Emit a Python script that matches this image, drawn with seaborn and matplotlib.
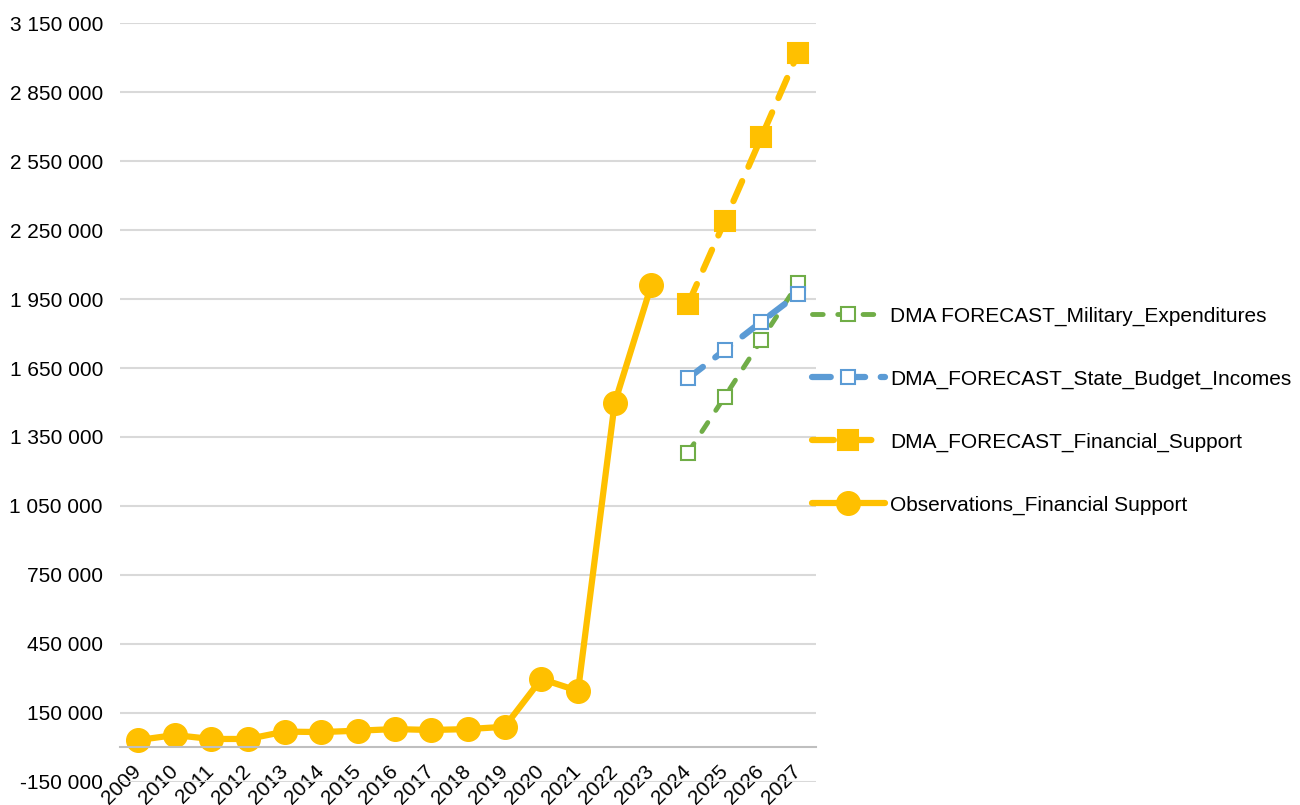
import numpy as np
import pandas as pd
import matplotlib
matplotlib.use("Agg")
import matplotlib.pyplot as plt
from matplotlib.ticker import FuncFormatter, FixedLocator
import seaborn as sns

years = [str(y) for y in range(2009, 2028)]
obs_years = years[:15]
fc_years = years[15:]

obs_financial = [32000, 54000, 37000, 37000, 69000, 67000, 73000, 80000, 76000,
                 80000, 90000, 298000, 246000, 1498000, 2011000]
fc_financial = [1928000, 2289000, 2654000, 3020000]
fc_budget = [1605000, 1728000, 1851000, 1972000]
fc_military = [1282000, 1525000, 1772000, 2018000]

yellow = "#ffc000"
blue = "#5b9bd5"
green = "#70ad47"

sns.set_style("white")
plt.rcParams['font.family'] = ['Liberation Sans', 'DejaVu Sans']
plt.rcParams['font.size'] = 15
plt.rcParams['text.color'] = 'black'
plt.rcParams['xtick.labelcolor'] = 'black'
plt.rcParams['ytick.labelcolor'] = 'black'

pos = {y: i for i, y in enumerate(years)}
df_obs = pd.DataFrame({"x": [pos[y] for y in obs_years], "v": obs_financial})
df_fc = pd.DataFrame({"x": [pos[y] for y in fc_years], "fin": fc_financial,
                      "bud": fc_budget, "mil": fc_military})

fig, ax = plt.subplots(figsize=(13, 8.05), dpi=100)
fig.subplots_adjust(left=0.092, right=0.628, top=0.9714, bottom=0.0286)

sns.lineplot(data=df_fc, x="x", y="mil", ax=ax, color=green, linewidth=3.5,
             linestyle=(0, (2.2, 3)), dash_capstyle="round",
             marker="s", markersize=10, mfc="white", mec=green, mew=1.5,
             label="DMA FORECAST_Military_Expenditures")
sns.lineplot(data=df_fc, x="x", y="bud", ax=ax, color=blue, linewidth=4.5,
             linestyle=(0, (3, 2.5)), dash_capstyle="round",
             marker="s", markersize=10, mfc="white", mec=blue, mew=1.5,
             label="DMA_FORECAST_State_Budget_Incomes")
sns.lineplot(data=df_fc, x="x", y="fin", ax=ax, color=yellow, linewidth=4.5,
             linestyle=(0, (3.5, 2.5)), dash_capstyle="round",
             marker="s", markersize=15, mfc=yellow, mec=yellow, mew=1.5,
             label="DMA_FORECAST_Financial_Support")
sns.lineplot(data=df_obs, x="x", y="v", ax=ax, color=yellow, linewidth=4.5,
             solid_capstyle="round", marker="o", markersize=17, mfc=yellow,
             mec=yellow, mew=1, label="Observations_Financial Support")

ax.set_xlim(-0.5, len(years) - 0.5)
ax.set_ylim(-150000, 3150000)
ax.set_yticks(np.arange(-150000, 3150001, 300000))
ax.yaxis.set_major_formatter(FuncFormatter(lambda v, p: f"{v:,.0f}".replace(",", " ")))
ax.grid(axis="y", color="#d9d9d9", linewidth=1.5)
ax.grid(axis="x", visible=False)

for s in ["top", "right", "left"]:
    ax.spines[s].set_visible(False)
ax.spines["bottom"].set_position(("data", 0))
ax.spines["bottom"].set_color("#bfbfbf")
ax.spines["bottom"].set_linewidth(1.5)

ax.set_xticks(range(len(years)))
ax.set_xticklabels(years, rotation=45, ha="right", va="center",
                   rotation_mode="anchor")
ax.xaxis.set_minor_locator(FixedLocator(np.arange(-0.5, len(years), 1)))
ax.tick_params(axis="x", which="major", length=0, pad=15, labelsize=15)
ax.tick_params(axis="x", which="minor", length=6, width=1.5, color="#bfbfbf",
               direction="out")
ax.tick_params(axis="y", length=0, pad=12, labelsize=15)
ax.set_xlabel("")
ax.set_ylabel("")

ax.legend(loc="center left", bbox_to_anchor=(0.6246, 0.49),
          bbox_transform=fig.transFigure, frameon=False, handlelength=3.5,
          handletextpad=0.25, labelspacing=2.1, fontsize=15, numpoints=1,
          borderpad=0, borderaxespad=0)

fig.savefig("out.png", dpi=100)
